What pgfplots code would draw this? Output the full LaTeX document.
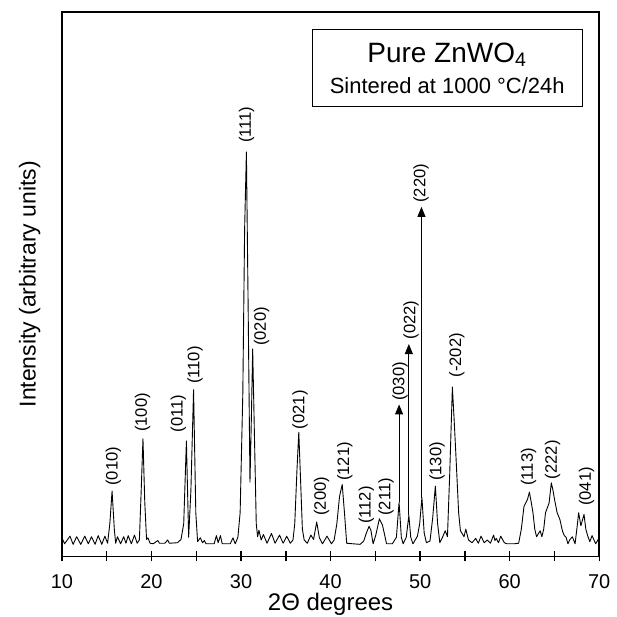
\documentclass[border=0pt]{standalone}
\usepackage{fontspec}
\setmainfont{Liberation Sans}
\usepackage{pgfplots}
\pgfplotsset{compat=1.18}
\usetikzlibrary{arrows.meta}

\tikzset{peak/.style={rotate=90, anchor=west, inner sep=0pt, font=\fontsize{8.3}{10}\selectfont}}

\pgfplotstableread{
x y
10.0 3.4
10.3 2.3
10.6 3.0
10.9 3.7
11.25 2.2
11.65 3.6
12.1 2.2
12.55 3.7
12.95 2.3
13.3 3.6
13.7 2.2
14.05 3.8
14.45 2.2
14.8 3.7
15.1 2.4
15.35 6
15.6 12.0
15.85 5
16.0 2.4
16.2 3.6
16.55 2.3
16.9 3.6
17.15 2.4
17.4 3.8
17.75 2.3
18.1 3.9
18.4 2.4
18.65 3.0
18.85 12
19.05 21.6
19.25 10
19.45 3.1
19.6 3.4
19.85 2.4
20.2 2.3
20.7 2.9
20.9 2.4
21.5 2.4
21.8 3.0
22.0 2.4
22.9 2.5
23.3 3.1
23.6 6
23.9 21.2
24.15 3.5
24.4 12
24.7 30.6
24.95 8
25.15 2.7
25.45 3.4
25.7 2.5
25.9 2.9
26.1 2.3
27.0 2.3
27.25 3.8
27.45 2.5
27.7 3.8
27.9 2.3
28.8 2.3
29.1 3.4
29.35 2.3
29.65 3.5
29.9 8
30.2 30
30.4 60
30.6 74.3
30.8 45
31.0 13.6
31.15 25
31.3 38.1
31.5 22
31.7 6
31.85 3.6
32.0 4.8
32.25 3.0
32.5 4.0
32.9 2.4
33.4 4.2
33.8 2.4
34.3 3.9
34.7 2.4
35.1 3.7
35.5 2.4
35.8 3.0
36.0 6
36.25 16
36.45 22.8
36.65 14
36.85 5
37.05 3.0
37.4 2.4
37.8 3.9
38.1 3.1
38.45 6.3
38.75 3.4
39.1 2.3
39.6 3.7
40.1 2.3
40.4 3.0
40.7 6
41.0 11
41.3 13.2
41.55 8
41.8 2.4
42.5 2.3
43.3 2.2
43.7 2.8
44.0 4.3
44.3 5.5
44.5 4.8
44.75 2.3
45.05 3.9
45.45 6.9
45.8 5.7
46.25 2.3
46.9 2.3
47.35 3.5
47.65 9.9
47.9 3.5
48.1 2.3
48.45 3.5
48.74 7.5
48.95 3.5
49.2 2.3
49.7 3.7
49.95 6
50.2 10.8
50.45 4.3
50.7 2.5
51.1 2.8
51.4 7
51.7 12.9
51.95 6
52.2 2.5
52.5 3.5
52.8 4.7
53.05 3.6
53.3 15
53.6 31.1
53.8 25
54.0 18.4
54.3 8
54.5 4.7
54.9 3.6
55.1 5.0
55.4 3.0
55.8 2.5
56.2 3.3
56.5 2.4
56.8 3.7
57.15 2.5
57.5 3.0
57.85 2.4
58.2 3.9
58.35 2.9
58.5 3.3
58.75 2.5
59.0 3.7
59.4 2.5
59.7 2.3
60.5 2.3
61.0 2.4
61.3 5
61.6 9.2
62.0 10.5
62.2 11.8
62.4 10
62.6 8.0
62.8 5
63.0 3.6
63.4 4.7
63.6 3.6
63.8 5
64.0 8.0
64.4 9.8
64.65 13.5
64.85 12
65.0 10.5
65.3 8
65.6 6.8
65.9 4.6
66.1 3.8
66.3 3.5
66.5 2.3
66.7 3.0
67.0 3.6
67.3 2.3
67.5 5
67.7 8.0
67.95 5.6
68.3 7.7
68.5 5
68.7 3.8
68.95 2.7
69.2 3.8
69.6 2.3
69.85 3.0
70.0 3.6
}\xrd

\begin{document}
\begin{tikzpicture}
\begin{axis}[
    name=ax,
    at={(0,0)}, anchor=south west,
    width=269pt, height=272.5pt,
    scale only axis,
    xmin=10, xmax=70,
    ymin=0, ymax=100,
    axis line style={line width=0.8pt},
    xtick={10,20,...,70},
    minor xtick={15,25,...,65},
    xtick pos=lower,
    ytick=\empty,
    tick align=center,
    major tick length=5pt,
    minor tick length=5pt,
    every tick/.style={black, line width=0.7pt},
    /pgf/number format/assume math mode=true,
    ticklabel style={font=\fontsize{10}{12}\selectfont},
    xticklabel style={yshift=-3pt},
    xlabel={2Θ degrees},
    xlabel style={font=\fontsize{12}{14}\selectfont, at={(axis description cs:0.5,0)}, anchor=base, inner sep=0pt, yshift=-27pt},
    ylabel={Intensity (arbitrary units)},
    ylabel style={font=\fontsize{11.5}{13}\selectfont, at={(axis description cs:-0.06,0.5)}, anchor=center, inner sep=0pt},
    clip=false,
]
\addplot[black, line width=0.45pt, line join=round] table[x=x, y=y] {\xrd};

% arrows for the truncated reflections
\draw[line width=0.45pt, -{Triangle[length=5pt, width=4pt]}] (axis cs:47.65,9.9) -- (axis cs:47.65,27.9);
\draw[line width=0.45pt, -{Triangle[length=5pt, width=4pt]}] (axis cs:48.74,7.5) -- (axis cs:48.74,39.0);
\draw[line width=0.45pt, -{Triangle[length=5pt, width=4pt]}] (axis cs:50.15,10.8) -- (axis cs:50.15,64.2);

% hkl labels
\node[peak] at (axis cs:15.73,12.9) {(010)};
\node[peak] at (axis cs:19.0,22.8) {(100)};
\node[peak] at (axis cs:23.0,22.7) {(011)};
\node[peak] at (axis cs:24.86,31.6) {(110)};
\node[peak] at (axis cs:30.63,75.9) {(111)};
\node[peak] at (axis cs:32.3,38.6) {(020)};
\node[peak] at (axis cs:36.6,23.3) {(021)};
\node[peak] at (axis cs:39.0,7.4) {(200)};
\node[peak] at (axis cs:41.6,13.8) {(121)};
\node[peak] at (axis cs:44.0,5.9) {(112)};
\node[peak] at (axis cs:46.2,7.4) {(211)};
\node[peak] at (axis cs:47.77,28.5) {(030)};
\node[peak] at (axis cs:49.0,39.8) {(022)};
\node[peak] at (axis cs:50.1,64.9) {(220)};
\node[peak] at (axis cs:51.9,13.8) {(130)};
\node[peak] at (axis cs:54.1,32.8) {(-202)};
\node[peak] at (axis cs:62.1,12.9) {(113)};
\node[peak] at (axis cs:64.8,14.1) {(222)};
\node[peak] at (axis cs:68.6,9.2) {(041)};

% sample box
\draw[line width=0.5pt] (axis description cs:0.4665,0.826) rectangle (axis description cs:0.968,0.967);
\node[font=\fontsize{14}{16}\selectfont] at (axis description cs:0.717,0.922) {Pure ZnWO\textsubscript{4}};
\node[font=\fontsize{11}{13}\selectfont] at (axis description cs:0.717,0.864) {Sintered at 1000 °C/24h};
\end{axis}
\path (-31pt,-30pt) rectangle (276pt,278.5pt);
\end{tikzpicture}
\end{document}
